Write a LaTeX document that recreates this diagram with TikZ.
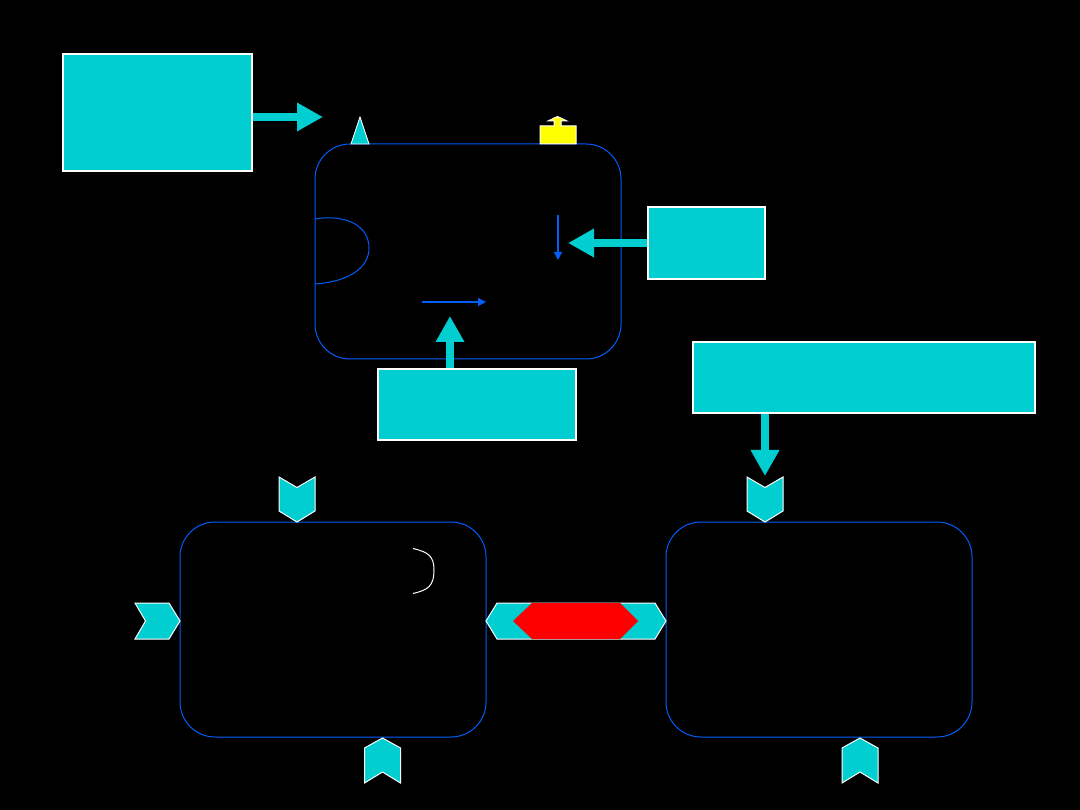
\documentclass[tikz,border=0pt]{standalone}
\usetikzlibrary{arrows.meta}
\definecolor{cy}{RGB}{0,206,209}
\definecolor{bl}{RGB}{0,95,250}
\definecolor{yl}{RGB}{255,255,0}
\begin{document}
\begin{tikzpicture}[x=1pt,y=-1pt,
  cbox/.style={draw=white,fill=cy,line width=1.5pt,inner sep=0pt},
  rbox/.style={draw=bl,line width=1pt,rounded corners=35pt,inner sep=0pt,minimum width=306pt,minimum height=215pt},
  bigarrow/.style={draw=cy,line width=8pt,-{Triangle[length=26pt,width=27pt]}},
  thinarrow/.style={draw=bl,line width=1.2pt,-{Triangle[length=8pt,width=8pt]}},
  chev/.style={fill=cy,draw=white,line width=1pt,line join=miter}]
\fill[black] (0,0) rectangle (1080,810);
\useasboundingbox (0,0) rectangle (1080,810);

% boxes
\node[cbox,minimum width=189pt,minimum height=117pt] (boxA) at (157.5,112.5) {};
\node[cbox,minimum width=117pt,minimum height=72pt] (boxR) at (706.5,243) {};
\node[cbox,minimum width=198pt,minimum height=71pt] (boxB) at (477,404.5) {};
\node[cbox,minimum width=342pt,minimum height=71pt] (boxW) at (864,377.5) {};

% rounded frames
\node[rbox] (top) at (468,251.5) {};
\node[rbox] (bl) at (333,629.5) {};
\node[rbox] (br) at (819,629.5) {};

% big arrows
\coordinate (a1) at (323,117);
\coordinate (a2) at (568,243);
\coordinate (a3) at (450,316);
\coordinate (a4) at (765,476);
\draw[bigarrow] (boxA.east |- a1) -- (a1);
\draw[bigarrow] (boxR.west) -- (a2);
\draw[bigarrow] (boxB.north -| a3) -- (a3);
\draw[bigarrow] (boxW.south -| a4) -- (a4);

% small triangle on top frame
\filldraw[fill=cy,draw=white,line width=0.8pt] (351,144) -- (360,117) -- (369,144) -- cycle;

% yellow house shape
\filldraw[fill=yl,draw=white,line width=1pt] (540,144) -- (540,126) -- (554,126) -- (554,121) -- (548,121) -- (557.5,116.5) -- (567,121) -- (561,121) -- (561,126) -- (576,126) -- (576,144) -- cycle;

% D curve on top frame
\draw[bl,line width=1pt] (315,219) .. controls (345,214) and (369,225) .. (369,248) .. controls (369,270) and (345,282) .. (315,284);

% thin blue arrows
\coordinate (t1s) at (558,215);
\coordinate (t1e) at (558,260);
\coordinate (t2s) at (422,302);
\coordinate (t2e) at (486,302);
\draw[thinarrow] (t1s) -- (t1e);
\draw[thinarrow] (t2s) -- (t2e);

% white curve in bottom-left frame
\draw[white,line width=1pt] (413,548.5) .. controls (428,552) and (434,556) .. (434,570) .. controls (434,586) and (428,590) .. (413,593.5);

% chevrons down (top)
\foreach \cx in {297,765}{
  \filldraw[chev] (\cx-18,477) -- (\cx,487.5) -- (\cx+18,477) -- (\cx+18,511) -- (\cx,522) -- (\cx-18,511) -- cycle;
}
% chevrons up (bottom)
\foreach \cx in {382.5,860}{
  \filldraw[chev] (\cx,738) -- (\cx+18,748) -- (\cx+18,783) -- (\cx,772) -- (\cx-18,783) -- (\cx-18,748) -- cycle;
}
% chevron pointing right
\filldraw[chev] (135,603) -- (169,603) -- (180,621) -- (169,639) -- (135,639) -- (145.5,621) -- cycle;

% double hexagon and red band
\filldraw[chev] (486,621) -- (497,603) -- (655,603) -- (666,621) -- (655,639) -- (497,639) -- cycle;
\fill[red] (513,621) -- (532,603) -- (620,603) -- (638,621) -- (620,639) -- (532,639) -- cycle;
\end{tikzpicture}
\end{document}
